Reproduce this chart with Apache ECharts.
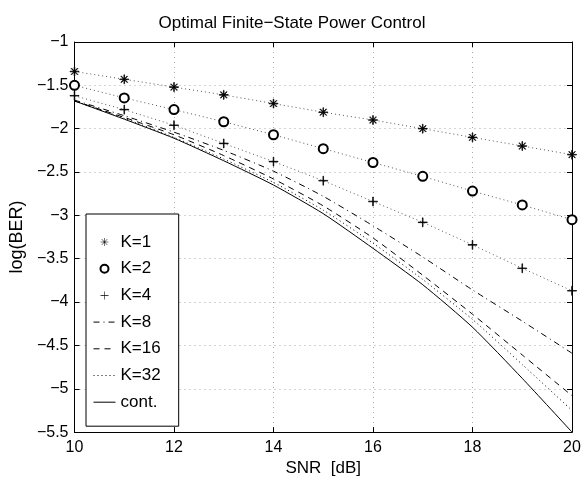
<!DOCTYPE html>
<html>
<head>
<meta charset="utf-8">
<title>Optimal Finite-State Power Control</title>
<script src="https://cdn.jsdelivr.net/npm/echarts@6/dist/echarts.min.js"></script>
<style>
  html, body { margin: 0; padding: 0; background: #fff; }
  #chart { width: 584px; height: 482px; }
</style>
</head>
<body>
<div id="chart"></div>
<script>
// data
const snr = [10, 11, 12, 13, 14, 15, 16, 17, 18, 19, 20]
const k1 = [-1.34, -1.43, -1.52, -1.61, -1.71, -1.81, -1.90, -2.00, -2.10, -2.20, -2.30]
const k2 = [-1.50, -1.645, -1.78, -1.92, -2.07, -2.23, -2.39, -2.55, -2.72, -2.88, -3.05]
const k4 = [-1.62, -1.78, -1.96, -2.17, -2.38, -2.60, -2.84, -3.08, -3.34, -3.61, -3.87]
const k8 = [-1.67, -1.85, -2.04, -2.25, -2.49, -2.78, -3.12, -3.48, -3.86, -4.22, -4.59]
const k16 = [-1.68, -1.87, -2.07, -2.31, -2.58, -2.89, -3.26, -3.69, -4.14, -4.61, -5.08]
const k32 = [-1.68, -1.88, -2.10, -2.35, -2.62, -2.94, -3.32, -3.74, -4.20, -4.72, -5.25]
const cont = [-1.68, -1.89, -2.11, -2.37, -2.65, -2.98, -3.38, -3.80, -4.29, -4.88, -5.50]
const xTicks = [10, 12, 14, 16, 18, 20]
const yTicks = [-1, -1.5, -2, -2.5, -3, -3.5, -4, -4.5, -5, -5.5]

const FONT = '"Liberation Sans", Arial, sans-serif'

// asterisk and plus markers (matlab style)
const asterisk = 'path://M-0.07,-1L0.07,-1L0.07,1L-0.07,1Z' +
  'M-1,-0.07L1,-0.07L1,0.07L-1,0.07Z' +
  'M-0.66,-0.75L0.75,0.66L0.66,0.75L-0.75,-0.66Z' +
  'M0.75,-0.66L-0.66,0.75L-0.75,0.66L0.66,-0.75Z'
const plus = 'path://M-0.07,-1L0.07,-1L0.07,1L-0.07,1Z' +
  'M-1,-0.07L1,-0.07L1,0.07L-1,0.07Z'

const pairs = (ys) => snr.map((x, i) => [x, ys[i]])
const minus = (v) => String(v).replace('-', '\u2212')

const gridLine = { show: true, lineStyle: { color: '#aaa', type: [1, 4], width: 1 } }
const blackLine = { show: true, lineStyle: { color: '#000', width: 1 } }
const tickIn = { show: true, inside: true, length: 5, lineStyle: { color: '#000' } }

const markerLine = (name, ys, symbol, size) => ({
  name: name,
  type: 'line',
  data: pairs(ys),
  symbol: symbol,
  symbolSize: size,
  showSymbol: true,
  itemStyle: { color: '#000', borderColor: '#000', borderWidth: 0.7 },
  lineStyle: { color: '#555', width: 1, type: [1, 3] },
  emphasis: { disabled: true },
  animation: false,
  z: 3
})

const curve = (name, ys, type) => ({
  name: name,
  type: 'line',
  data: pairs(ys),
  symbol: 'none',
  smooth: 0.2,
  itemStyle: { color: '#000' },
  lineStyle: { color: '#000', width: 1, type: type },
  emphasis: { disabled: true },
  animation: false,
  z: 2
})

// legend entries for the plain curves: line only, no marker
const lineOnly = (name) => ({ name: name, itemStyle: { opacity: 0 }, lineStyle: { width: 1 } })

const options = {
  backgroundColor: '#fff',
  title: {
    text: 'Optimal Finite\u2212State Power Control',
    left: 'center',
    top: 10,
    textStyle: { fontFamily: FONT, fontSize: 17, fontWeight: 'normal', color: '#000' }
  },
  grid: { left: 70, right: 12, top: 42, bottom: 44 },
  legend: {
    orient: 'vertical',
    left: 86,
    top: 214,
    padding: [18, 18, 14, 7],
    itemWidth: 22,
    itemHeight: 8,
    itemGap: 6.7,
    backgroundColor: '#fff',
    borderColor: '#000',
    borderWidth: 1,
    textStyle: { fontFamily: FONT, fontSize: 17, color: '#000', lineHeight: 20 },
    data: [
      { name: 'K=1', icon: asterisk, itemStyle: { borderWidth: 0 } },
      { name: 'K=2', icon: 'emptyCircle', itemStyle: { borderWidth: 0.7 } },
      { name: 'K=4', icon: plus, itemStyle: { borderWidth: 0 } },
      lineOnly('K=8'), lineOnly('K=16'), lineOnly('K=32'), lineOnly('cont.')
    ]
  },
  xAxis: [{
    type: 'value',
    min: 10,
    max: 20,
    interval: 2,
    name: 'SNR  [dB]',
    nameLocation: 'middle',
    nameGap: 23,
    nameTextStyle: { fontFamily: FONT, fontSize: 17, color: '#000' },
    axisLine: blackLine,
    axisTick: tickIn,
    splitLine: gridLine,
    axisLabel: {
      fontFamily: FONT, fontSize: 16, color: '#000', margin: 7,
      formatter: (v) => xTicks.includes(v) ? minus(v) : ''
    }
  }, {
    type: 'value',
    position: 'top',
    min: 10,
    max: 20,
    interval: 2,
    axisLine: blackLine,
    axisTick: tickIn,
    axisLabel: { show: false },
    splitLine: { show: false }
  }],
  yAxis: [{
    type: 'value',
    min: -5.5,
    max: -1,
    interval: 0.5,
    name: 'log(BER)',
    nameLocation: 'middle',
    nameGap: 44,
    nameRotate: 90,
    nameTextStyle: { fontFamily: FONT, fontSize: 18, color: '#000' },
    axisLine: blackLine,
    axisTick: tickIn,
    splitLine: gridLine,
    axisLabel: {
      fontFamily: FONT, fontSize: 16, color: '#000', margin: 6,
      formatter: (v) => yTicks.includes(v) ? minus(v) : ''
    }
  }, {
    type: 'value',
    position: 'right',
    min: -5.5,
    max: -1,
    interval: 0.5,
    axisLine: blackLine,
    axisTick: tickIn,
    axisLabel: { show: false },
    splitLine: { show: false }
  }],
  series: [
    markerLine('K=1', k1, asterisk, 9),
    markerLine('K=2', k2, 'emptyCircle', 9),
    markerLine('K=4', k4, plus, 9),
    curve('K=8', k8, [6, 4, 1, 4]),
    curve('K=16', k16, [6, 5]),
    curve('K=32', k32, [1, 3]),
    curve('cont.', cont, 'solid')
  ]
}

const chart = echarts.init(document.getElementById('chart'), null, { renderer: 'canvas' })
chart.setOption(options)
</script>
</body>
</html>
